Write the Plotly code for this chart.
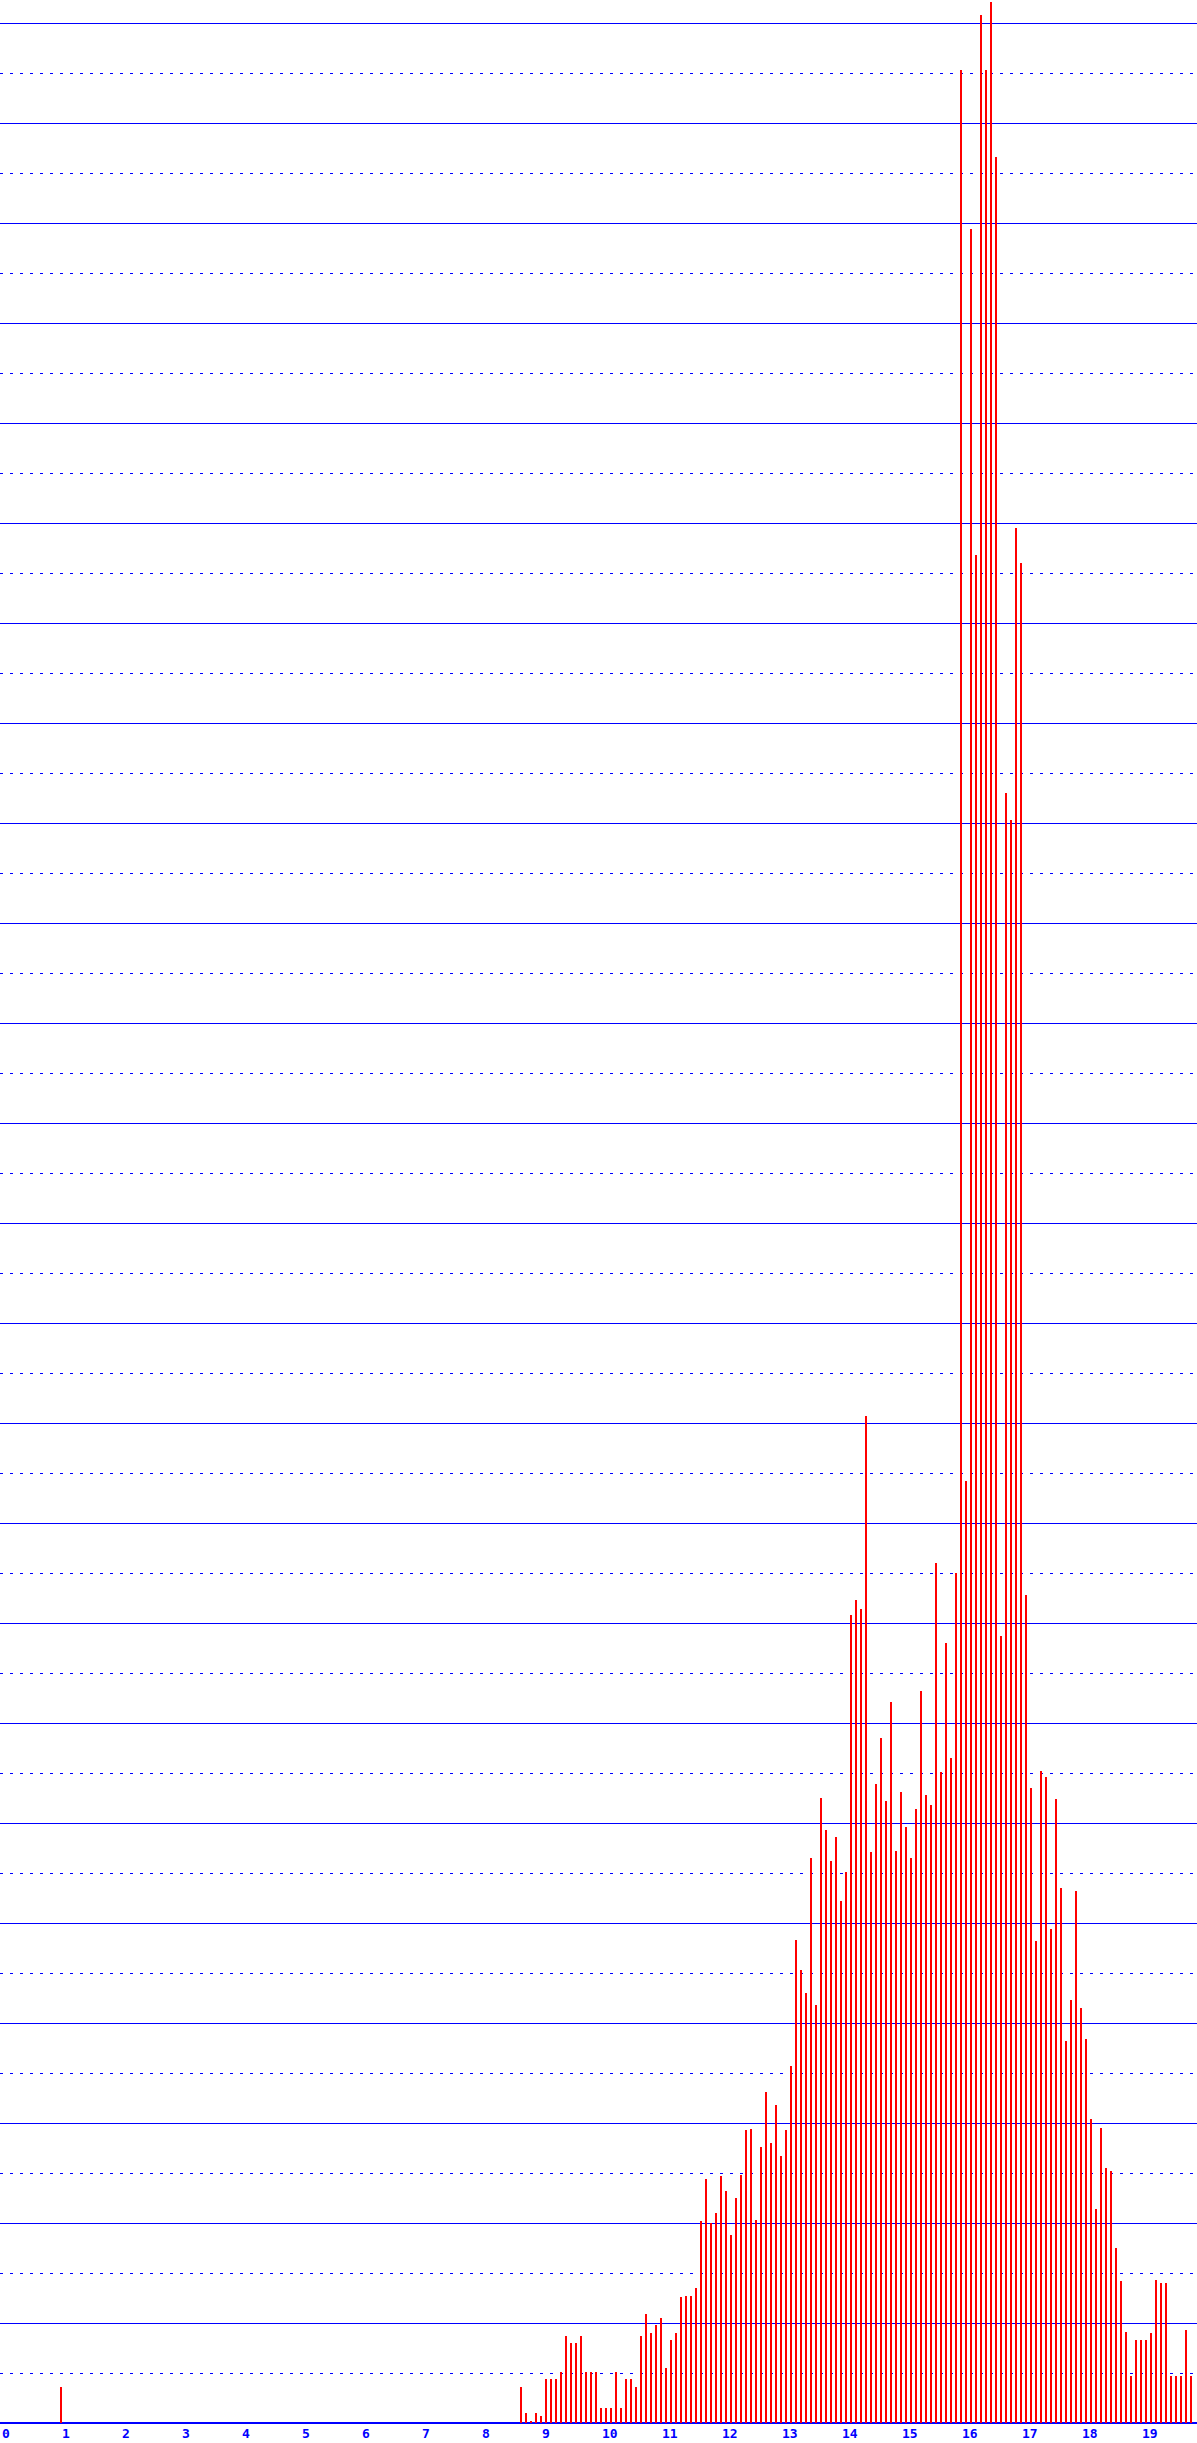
import plotly.graph_objects as go

# ---- data (x in months; labels are years) ----
single_month = [12]
single_value = [36.3]

start_month = 104
values = [
    36.5, 10.3, 2.3, 10.3, 7.3, 44.3, 44.3, 44.3, 51.3, 87.3,      # 104-113
    80.3, 80.3, 87.3, 51.3, 51.3, 51.3, 15.3, 15.3, 15.3, 51.3,    # 114-123
    15.3, 44.3, 44.3, 36.3, 87.3, 109.3, 90.3, 98.3, 105.3, 55.3,  # 124-133
    83.3, 90.3, 126.3, 127.3, 127.3, 135.3, 202.3, 244.3, 200.3, 210.3,  # 134-143
    247.3, 232.3, 188.3, 225.3, 248.0, 293.0, 294.0, 203.3, 276.0, 331.0,  # 144-153
    280.3, 318.3, 266.7, 293.1, 357.1, 483.2, 452.8, 430.1, 565.2, 417.8,  # 154-163
    624.9, 593.1, 561.8, 586.0, 522.0, 550.9, 808.0, 823.0, 814.0, 1007.0,  # 164-173
    570.9, 639.1, 685.0, 622.0, 721.0, 571.8, 631.0, 595.9, 565.2, 614.0,  # 174-183
    732.0, 628.2, 617.8, 860.0, 650.9, 780.0, 665.2, 850.0, 2353.0, 942.0,  # 184-193
    2194.0, 1868.0, 2408.0, 2353.0, 2421.0, 2266.0, 787.0, 1630.0, 1603.0, 1895.0,  # 194-203
    1860.0, 828.0, 634.8, 481.8, 651.9, 646.2, 494.1, 623.9, 534.8, 381.8,  # 204-213
    423.0, 532.0, 414.9, 384.1, 304.0, 214.0, 295.0, 254.7, 251.9, 175.1,  # 214-223
    142.0, 90.8, 46.7, 82.7, 82.7, 82.7, 89.8, 142.9, 140.0, 140.0,        # 224-233
    46.7, 46.7, 46.7, 92.7, 46.7,                                          # 234-238
]

tick_years = list(range(0, 20))
tick_labels = [str(y) for y in tick_years]

BLUE = "#0000ff"
RED = "#ff0000"

months = single_month + [start_month + i for i in range(len(values))]
heights = single_value + values

fig = go.Figure()
fig.add_trace(go.Bar(
    x=months, y=heights, width=0.42,
    marker=dict(color=RED, line=dict(width=0)),
    hoverinfo="x+y",
))

annotations = []
for yr, lab in zip(tick_years, tick_labels):
    annotations.append(dict(
        x=yr * 12, y=0, xref="x", yref="y",
        text="<b>" + lab + "</b>", showarrow=False,
        xanchor="left", yanchor="top", xshift=-1, yshift=-1,
        font=dict(family="DejaVu Sans Mono", size=13, color=BLUE),
    ))

fig.update_layout(
    width=1197, height=2443,
    margin=dict(l=0, r=0, t=0, b=20, pad=0),
    paper_bgcolor="white", plot_bgcolor="white",
    showlegend=False,
    bargap=0,
    annotations=annotations,
    xaxis=dict(
        range=[-0.2, 239.2], showgrid=False, zeroline=False,
        showline=False, showticklabels=False, ticks="", fixedrange=True,
    ),
    yaxis=dict(
        range=[0, 2423], tick0=0, dtick=100,
        showgrid=True, gridcolor=BLUE, gridwidth=1,
        zeroline=True, zerolinecolor=BLUE, zerolinewidth=2,
        showline=False, showticklabels=False, ticks="", fixedrange=True,
        minor=dict(tick0=0, dtick=50, showgrid=True, gridcolor=BLUE,
                   gridwidth=1, griddash="3px,7px", ticks=""),
    ),
)

fig.write_html(
    "out.html",
    config={"displayModeBar": False},
    post_script="document.body.style.margin='0';document.body.style.overflow='hidden';",
)
